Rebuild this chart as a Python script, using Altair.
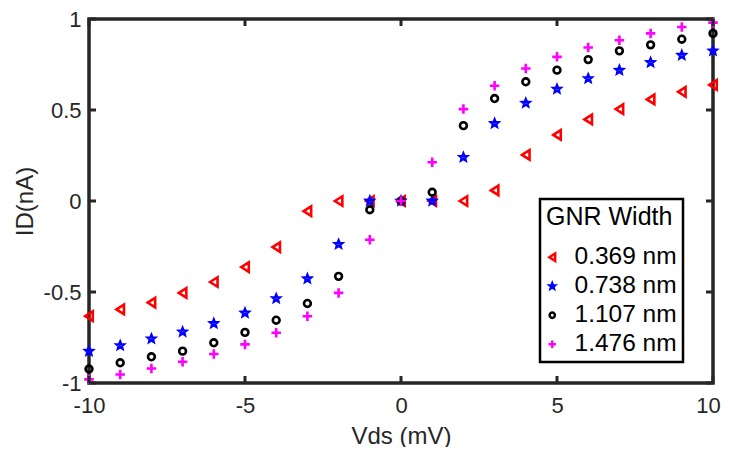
import math
import altair as alt
import pandas as pd

vds = list(range(-10, 11))
series_names = ["0.369 nm", "0.738 nm", "1.107 nm", "1.476 nm"]
id_0369 = [-0.633, -0.596, -0.558, -0.505, -0.445, -0.363, -0.253, -0.056, 0.0, 0.0, 0.0,
           0.0, 0.0, 0.058, 0.253, 0.363, 0.448, 0.505, 0.558, 0.600, 0.638]
id_0738 = [-0.825, -0.794, -0.757, -0.719, -0.673, -0.615, -0.536, -0.427, -0.238, 0.0, 0.0,
           0.0, 0.240, 0.426, 0.538, 0.615, 0.673, 0.719, 0.761, 0.801, 0.825]
id_1107 = [-0.923, -0.889, -0.856, -0.825, -0.779, -0.722, -0.655, -0.563, -0.414, -0.048, 0.0,
           0.048, 0.414, 0.563, 0.655, 0.719, 0.777, 0.825, 0.858, 0.889, 0.921]
id_1476 = [-0.980, -0.953, -0.920, -0.883, -0.841, -0.788, -0.724, -0.633, -0.505, -0.213, 0.0,
           0.213, 0.505, 0.633, 0.728, 0.792, 0.843, 0.883, 0.921, 0.956, 0.980]
x_ticks = [-10, -5, 0, 5, 10]
y_ticks = [-1, -0.5, 0, 0.5, 1]

colors = ["#ff0000", "#0000ff", "#000000", "#ff00ff"]

# marker outlines in the unit box (-1..1)
pts = []
for i in range(10):
    r = 0.74 if i % 2 == 0 else 0.33
    a = math.radians(-90 + 36 * i)
    pts.append(f"{r * math.cos(a):.3f},{r * math.sin(a):.3f}")
STAR = "M" + "L".join(pts) + "Z"
TRI = "M-0.75,0L0.75,-0.95L0.75,0.95Z"
CIRC = "M0.68,0A0.68,0.68 0 1,1 -0.68,0A0.68,0.68 0 1,1 0.68,0Z"
PLUS = "M-0.95,0H0.95M0,-0.95V0.95"
shapes = [TRI, STAR, CIRC, PLUS]

rows = []
for name, vals in zip(series_names, [id_0369, id_0738, id_1107, id_1476]):
    for x, y in zip(vds, vals):
        rows.append({"Vds": x, "ID": y, "Width": name})
df = pd.DataFrame(rows)
xt = pd.DataFrame({"Vds": x_ticks})
yt = pd.DataFrame({"ID": y_ticks})

W, H = 624, 364
FONT = "Liberation Sans"
AX = "#262626"
TL = 7

xscale = alt.Scale(domain=[-10, 10], nice=False, zero=False)
yscale = alt.Scale(domain=[-1, 1], nice=False, zero=False)

leg = dict(title="GNR Width", symbolSize=60, symbolOffset=-6, labelOffset=10)

main = alt.Chart(df).mark_point(filled=False, strokeWidth=2.6, size=100, opacity=1).encode(
    x=alt.X("Vds:Q", scale=xscale,
            axis=alt.Axis(values=x_ticks, title="Vds (mV)", labelFlush=False,
                          labelOffset={"condition": {"test": "datum.value === 10",
                                                     "value": -5}, "value": 0},
                          labelExpr="datum.value + ''", grid=False, domain=False,
                          ticks=False, labelPadding=12, labelFontSize=22,
                          labelFont=FONT, labelColor=AX, titleFont=FONT,
                          titleFontSize=24, titleFontWeight="normal", titleColor=AX,
                          titlePadding=8)),
    y=alt.Y("ID:Q", scale=yscale,
            axis=alt.Axis(values=y_ticks, title="ID(nA)", labelFlush=False,
                          labelExpr="datum.value + ''", grid=False, domain=False,
                          ticks=False, labelPadding=8, labelFontSize=22,
                          labelFont=FONT, labelColor=AX, titleFont=FONT,
                          titleFontSize=24, titleFontWeight="normal", titleColor=AX,
                          titlePadding=6)),
    color=alt.Color("Width:N", scale=alt.Scale(domain=series_names, range=colors),
                    legend=alt.Legend(**leg)),
    shape=alt.Shape("Width:N", scale=alt.Scale(domain=series_names, range=shapes),
                    legend=alt.Legend(**leg)),
)

rule = dict(color=AX, strokeWidth=3)
t_bottom = alt.Chart(xt).mark_rule(**rule).encode(
    x=alt.X("Vds:Q", scale=xscale), y=alt.value(H), y2=alt.value(H - TL))
t_top = alt.Chart(xt).mark_rule(**rule).encode(
    x=alt.X("Vds:Q", scale=xscale), y=alt.value(0), y2=alt.value(TL))
t_left = alt.Chart(yt).mark_rule(**rule).encode(
    y=alt.Y("ID:Q", scale=yscale), x=alt.value(0), x2=alt.value(TL))
t_right = alt.Chart(yt).mark_rule(**rule).encode(
    y=alt.Y("ID:Q", scale=yscale), x=alt.value(W), x2=alt.value(W - TL))

chart = alt.layer(main, t_bottom, t_top, t_left, t_right).properties(
    width=W, height=H,
    autosize=alt.AutoSizeParams(type="none"),
    padding={"left": 81, "top": 11, "right": 8, "bottom": 64},
).configure_view(
    stroke=AX, strokeWidth=3.5
).configure_legend(
    orient="none", legendX=451, legendY=180,
    strokeColor="#000000", strokeWidth=2.5, fillColor="#ffffff", padding=6,
    titleFont=FONT, titleFontSize=25, titleFontWeight="normal", titleColor="#000000",
    titlePadding=15, labelFont=FONT, labelFontSize=24.5, labelColor="#000000",
    symbolStrokeWidth=2.5, rowPadding=4
)

chart.save("out.html", embed_options={"renderer": "svg", "actions": False})
